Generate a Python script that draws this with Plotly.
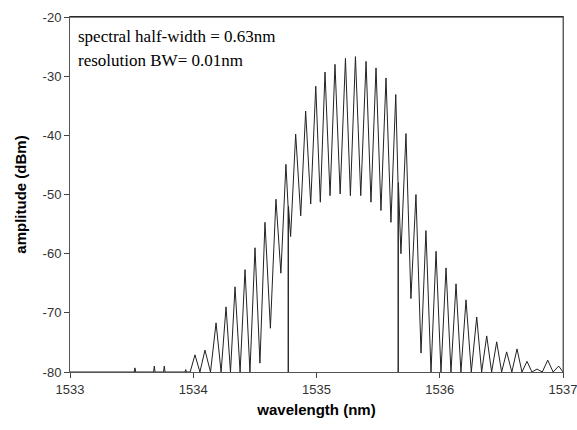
import plotly.graph_objects as go

# ---- data ----
# small isolated spikes near the noise floor (wavelength nm, amplitude dBm)
spike_wl = [1533.527, 1533.684, 1533.765, 1533.939]
spike_db = [-79.3, -79.0, -79.0, -79.6]

# fringe maxima
peak_wl = [1534.014, 1534.095, 1534.185, 1534.266, 1534.339, 1534.420, 1534.501,
           1534.582, 1534.671, 1534.752, 1534.831, 1534.912, 1534.994, 1535.069,
           1535.150, 1535.235, 1535.316, 1535.402, 1535.483, 1535.564, 1535.643,
           1535.726, 1535.807, 1535.888, 1535.970, 1536.051, 1536.132, 1536.213,
           1536.300, 1536.381, 1536.462, 1536.543, 1536.627, 1536.708, 1536.789,
           1536.876, 1536.965]
peak_db = [-77.1, -76.3, -71.7, -69.0, -65.6, -62.7, -59.0,
           -54.7, -50.8, -44.9, -39.8, -35.9, -31.7, -29.3,
           -28.0, -27.0, -26.7, -27.5, -28.6, -30.3, -33.1,
           -39.7, -50.0, -56.1, -59.6, -62.4, -65.1, -67.8,
           -70.7, -73.9, -74.9, -76.6, -76.1, -78.2, -79.5,
           -78.0, -79.0]

# fringe minima
valley_wl = [1533.975, 1534.054, 1534.140, 1534.226, 1534.302, 1534.380, 1534.460,
             1534.541, 1534.626, 1534.711, 1534.790, 1534.872, 1534.953, 1535.031,
             1535.110, 1535.192, 1535.275, 1535.359, 1535.442, 1535.523, 1535.604,
             1535.685, 1535.766, 1535.848, 1535.929, 1536.010, 1536.091, 1536.172,
             1536.256, 1536.340, 1536.421, 1536.502, 1536.585, 1536.667, 1536.748,
             1536.832, 1536.920, 1537.000]
valley_db = [-80.0, -80.0, -80.0, -80.0, -80.0, -80.0, -80.0,
             -78.5, -72.6, -63.3, -57.1, -53.6, -51.6, -51.3,
             -50.2, -49.9, -50.2, -50.2, -51.3, -52.7, -54.7,
             -60.0, -67.6, -76.8, -80.0, -80.0, -80.0, -80.0,
             -80.0, -80.0, -80.0, -80.0, -80.0, -80.0, -80.0,
             -80.0, -80.0, -80.0]

# momentary drop-outs of the trace to the floor
drop_wl = [1534.771, 1535.663]
drop_top = [-52.0, -48.0]

floor_db = -80.0
x_ticks = [1533, 1534, 1535, 1536, 1537]
y_ticks = [-80, -70, -60, -50, -40, -30, -20]
annot_lines = ["spectral half-width = 0.63nm", "resolution BW= 0.01nm"]

# ---- build the trace ----
pts = [(1533.0, floor_db)]
for w, h in zip(spike_wl, spike_db):
    pts += [(w - 0.006, floor_db), (w, h), (w + 0.006, floor_db)]
pts += list(zip(peak_wl, peak_db)) + list(zip(valley_wl, valley_db))
for w, h in zip(drop_wl, drop_top):
    pts += [(w - 0.0015, h), (w, floor_db), (w + 0.0015, h)]
pts.sort(key=lambda p: p[0])
xs = [p[0] for p in pts]
ys = [p[1] for p in pts]

fig = go.Figure()
fig.add_trace(go.Scatter(x=xs, y=ys, mode="lines", cliponaxis=True,
                         line=dict(color="#222222", width=1), showlegend=False))

annot_y = [0.944, 0.878]
for txt, yy in zip(annot_lines, annot_y):
    fig.add_annotation(x=0.012, y=yy, xref="paper", yref="paper",
                       xanchor="left", yanchor="middle", showarrow=False,
                       text=txt,
                       font=dict(family="Liberation Serif", size=17, color="#000"))

# frame: black top edge, grey right edge
fig.add_shape(type="line", xref="paper", yref="paper", x0=0, x1=1, y0=1, y1=1,
              line=dict(color="#000", width=1))
fig.add_shape(type="line", xref="paper", yref="paper", x0=1, x1=1, y0=0, y1=1,
              line=dict(color="#666", width=1))

axis_font = dict(family="Liberation Sans, Arial", size=13, color="#333")
title_font = dict(family="Liberation Sans, Arial", size=15, color="#000", weight="bold")
fig.update_layout(
    width=577, height=430, autosize=False,
    margin=dict(l=70, r=14, t=17, b=58),
    paper_bgcolor="white", plot_bgcolor="white",
    xaxis=dict(range=[1533, 1537], tickvals=x_ticks, ticktext=[str(v) for v in x_ticks],
               ticks="outside", ticklen=5, tickcolor="#444", automargin=False,
               ticklabeloverflow="allow",
               showline=True, linecolor="#555", linewidth=1, mirror=True,
               showgrid=False, zeroline=False, tickfont=axis_font,
               title=dict(text="wavelength (nm)", standoff=8, font=title_font)),
    yaxis=dict(range=[-80, -20], tickvals=y_ticks, ticktext=[str(v) for v in y_ticks],
               ticks="outside", ticklen=5, tickcolor="#444", automargin=False,
               ticklabeloverflow="allow",
               showline=True, linecolor="#555", linewidth=1, mirror=True,
               showgrid=False, zeroline=False, tickfont=axis_font,
               title=dict(text="amplitude (dBm)", standoff=12, font=title_font)),
)

fig.write_html("out.html", config={"displayModeBar": False},
               post_script="document.body.style.margin='0';document.body.style.overflow='hidden';")
